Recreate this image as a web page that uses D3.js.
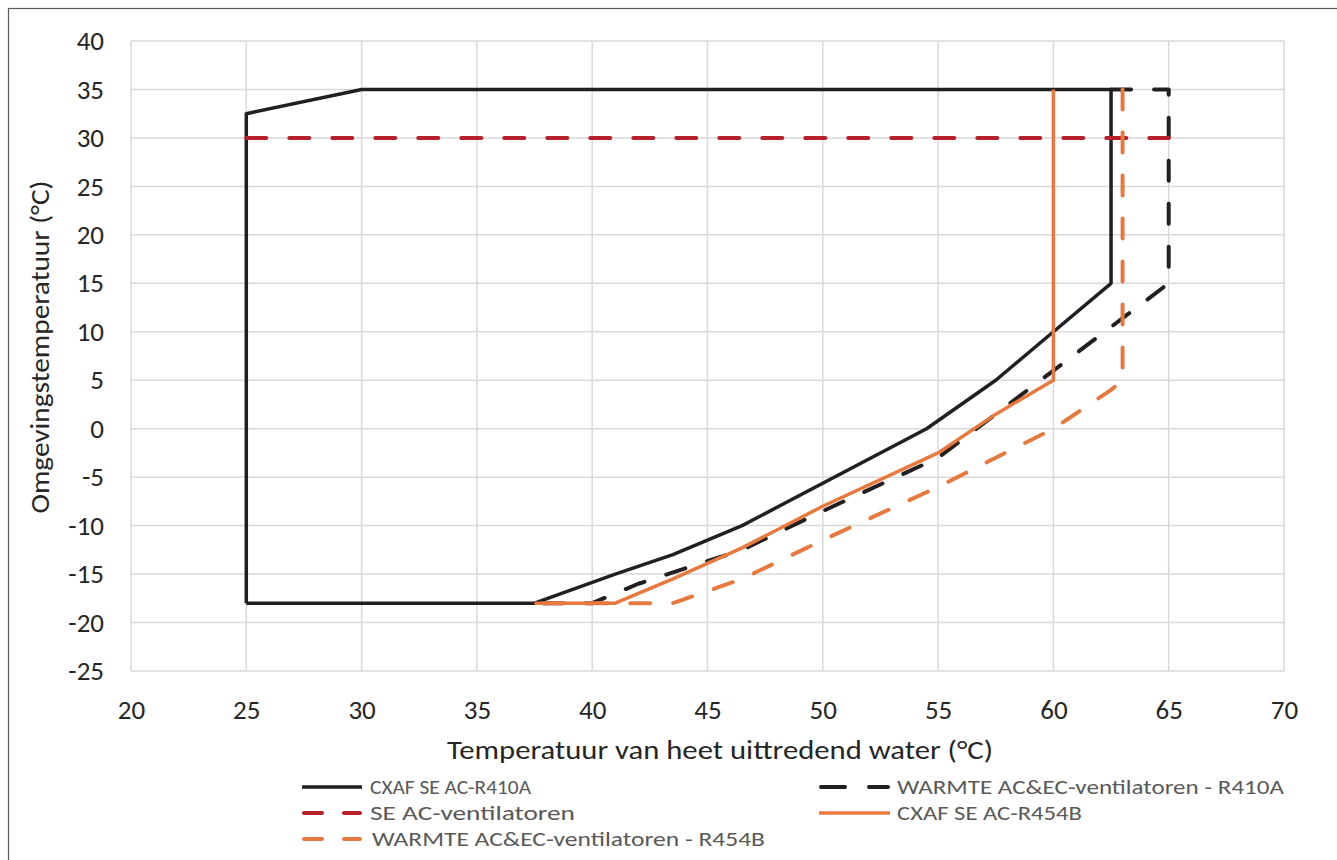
<!doctype html>
<html>
<head>
<meta charset="UTF-8">
<script src="https://cdn.jsdelivr.net/npm/d3@7"></script>
<style>
  body { margin: 0; background: #fff; }
  text { font-family: Carlito, Lato, "Open Sans", sans-serif; }
</style>
</head>
<body>
<svg id="chart"></svg>
<script>
// axis ticks
var xTicks = [20, 25, 30, 35, 40, 45, 50, 55, 60, 65, 70];
var yTicks = [-25, -20, -15, -10, -5, 0, 5, 10, 15, 20, 25, 30, 35, 40];

// series: [water temperature, ambient temperature]
var cxafR410a = [[25,-18],[25,32.5],[30,35],[62.5,35],[62.5,15],[60,10],[57.5,5],[54.5,0],
                 [46.5,-10],[43.5,-13],[41,-15],[37.5,-18],[25,-18]];
var warmteR410a = [[62.5,35],[65,35],[65,15],[62.5,10.5],[60,6],[57.5,1.5],[55,-3],
                   [50,-8.5],[46.5,-12.5],[42,-16],[40,-18],[37.5,-18]];
var seAc = [[25,30],[65,30]];
var cxafR454b = [[60,35],[60,5],[57.5,1.5],[55,-2.5],[50,-8],[46.5,-12.3],[43.5,-15.5],[41,-18],[37.5,-18]];
var warmteR454b = [[63,35],[63,5],[62.5,4],[60,0],[57.5,-3],[55,-6],[50,-11.5],[46.5,-15.5],[43.5,-18],[37.5,-18]];

var series = [
  {name: "CXAF SE AC-R410A", data: cxafR410a, color: "#231f20", dash: null},
  {name: "WARMTE AC&EC-ventilatoren - R410A", data: warmteR410a, color: "#231f20", dash: "20,23"},
  {name: "SE AC-ventilatoren", data: seAc, color: "#b5202a", dash: "20,23"},
  {name: "CXAF SE AC-R454B", data: cxafR454b, color: "#e8793e", dash: null},
  {name: "WARMTE AC&EC-ventilatoren - R454B", data: warmteR454b, color: "#e8793e", dash: "20,23"}
];

var W = 1337, H = 860;
var pLeft = 131, pRight = 1284, pTop = 41, pBottom = 671;

var svg = d3.select("#chart").attr("width", W).attr("height", H);

// outer frame
svg.append("rect").attr("x", 8.5).attr("y", 8.5).attr("width", W).attr("height", H)
  .attr("fill", "none").attr("stroke", "#595959").attr("stroke-width", 1.2);

var x = d3.scaleLinear().domain([20, 70]).range([pLeft, pRight]);
var y = d3.scaleLinear().domain([-25, 40]).range([pBottom, pTop]);

// grid
var grid = svg.append("g");
grid.selectAll(".gx").data(xTicks).enter().append("line")
  .attr("x1", d => x(d)).attr("x2", d => x(d)).attr("y1", pTop).attr("y2", pBottom)
  .attr("stroke", "#d9d9d9").attr("stroke-width", 1.5);
grid.selectAll(".gy").data(yTicks).enter().append("line")
  .attr("x1", pLeft).attr("x2", pRight).attr("y1", d => y(d)).attr("y2", d => y(d))
  .attr("stroke", "#d9d9d9").attr("stroke-width", 1.5);

// axes (labels only), plain hyphen for minus like the original
var fmt = d => String(d);
var xAxis = svg.append("g").attr("transform", "translate(0," + pBottom + ")")
  .call(d3.axisBottom(x).tickValues(xTicks).tickFormat(fmt).tickSize(0).tickPadding(29));
var yAxis = svg.append("g").attr("transform", "translate(" + pLeft + ",0)")
  .call(d3.axisLeft(y).tickValues(yTicks).tickFormat(fmt).tickSize(0).tickPadding(27));
[xAxis, yAxis].forEach(function(a) {
  a.select(".domain").remove();
  a.selectAll("text").attr("font-size", 27).attr("fill", "#262626")
    .style("font-family", "Carlito, Lato, sans-serif");
});

// axis titles
svg.append("text").attr("x", 720).attr("y", 759).attr("text-anchor", "middle")
  .attr("font-size", 27).attr("fill", "#262626")
  .attr("textLength", 546).attr("lengthAdjust", "spacingAndGlyphs")
  .text("Temperatuur van heet uittredend water (°C)");
svg.append("text").attr("transform", "translate(49,347) rotate(-90)").attr("text-anchor", "middle")
  .attr("font-size", 27).attr("fill", "#262626")
  .attr("textLength", 333).attr("lengthAdjust", "spacingAndGlyphs")
  .text("Omgevingstemperatuur (°C)");

// lines
var line = d3.line().x(d => x(d[0])).y(d => y(d[1]));
svg.append("g").selectAll("path").data(series).enter().append("path")
  .attr("d", d => line(d.data))
  .attr("fill", "none")
  .attr("stroke", d => d.color)
  .attr("stroke-width", d => d.dash ? 4 : 3.5)
  .attr("stroke-dasharray", d => d.dash)
  .attr("stroke-linecap", d => d.dash ? "round" : "butt")
  .attr("stroke-linejoin", "round");

// legend
var legendPos = [
  {x1: 302, x2: 362, tx: 370, y: 787, w: 161},
  {x1: 819, x2: 890, tx: 897, y: 787, w: 387},
  {x1: 302, x2: 362, tx: 370, y: 813, w: 205},
  {x1: 819, x2: 890, tx: 897, y: 813, w: 185},
  {x1: 302, x2: 362, tx: 372, y: 839, w: 393}
];
var legend = svg.append("g").selectAll("g").data(series).enter().append("g");
legend.append("line")
  .attr("x1", (d, i) => legendPos[i].x1 + (d.dash ? 2 : 0))
  .attr("x2", (d, i) => legendPos[i].x2 - (d.dash ? 2 : 0))
  .attr("y1", (d, i) => legendPos[i].y).attr("y2", (d, i) => legendPos[i].y)
  .attr("stroke", d => d.color)
  .attr("stroke-width", d => d.dash ? 4 : 3.5)
  .attr("stroke-dasharray", (d, i) => d.dash ? (i == 1 ? "24,24" : "18,22") : null)
  .attr("stroke-linecap", d => d.dash ? "round" : "butt");
legend.append("text")
  .attr("x", (d, i) => legendPos[i].tx).attr("y", (d, i) => legendPos[i].y + 7)
  .attr("font-size", 21).attr("fill", "#595959")
  .attr("textLength", (d, i) => legendPos[i].w).attr("lengthAdjust", "spacingAndGlyphs")
  .text(d => d.name);
</script>
</body>
</html>
